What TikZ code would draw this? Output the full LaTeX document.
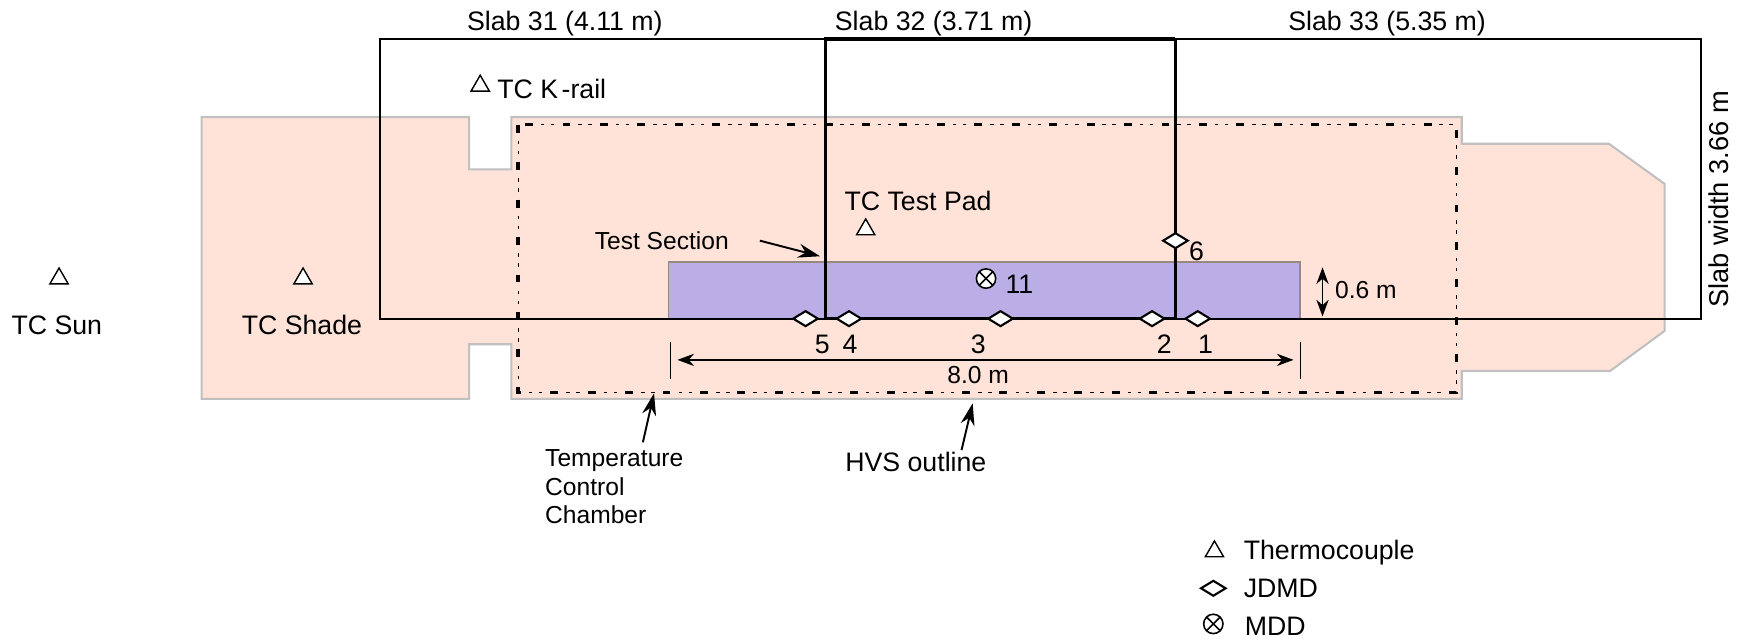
\documentclass[tikz,border=0pt]{standalone}
\usepackage{xcolor}
\usepackage{fontspec}
\setmainfont{Liberation Sans}
\usetikzlibrary{positioning,shapes.geometric,arrows.meta}
\definecolor{padfill}{RGB}{255,227,216}
\definecolor{padline}{RGB}{192,192,192}
\definecolor{testfill}{RGB}{187,174,230}
\definecolor{testline}{RGB}{150,138,128}

\begin{document}
\begin{tikzpicture}[x=0.02228cm, y=-0.02228cm,
    >={Stealth[length=9.5pt,width=7pt]},
    lbl/.style={font=\fontsize{15.2}{18}\selectfont, inner sep=0pt},
    lblsmall/.style={font=\fontsize{14}{16.1}\selectfont, inner sep=0pt},
    callout/.style={->, >={Stealth[length=12.5pt,width=8pt]}, line width=1.1pt},
    tcgauge/.style={draw, fill=white, regular polygon, regular polygon sides=3,
      minimum size=12pt, inner sep=0pt, line width=0.8pt},
    jdmd/.style={draw, fill=white, diamond, minimum width=14.5pt, minimum height=9pt,
      inner sep=0pt, line width=1.2pt},
    mdd/.style={draw, fill=white, circle, minimum size=11pt, inner sep=0pt, line width=0.9pt,
      path picture={
        \draw[line width=0.9pt] (path picture bounding box.north west) -- (path picture bounding box.south east);
        \draw[line width=0.9pt] (path picture bounding box.north east) -- (path picture bounding box.south west);
      }},
    chamberthick/.style={line width=1.9pt, dash pattern=on 4.5pt off 16.8pt},
    chamberthin/.style={line width=0.6pt, dash pattern=on 2pt off 3.7pt on 2pt off 13.6pt, dash phase=12.15pt}
  ]
  \useasboundingbox (0,0) rectangle (1568,575.3);

  % ===== Pad outline and test section =====
  \draw[fill=padfill, draw=padline, line width=1.2pt]
    (181,105) -- (421,105) -- (421,152) -- (459,152) -- (459,105) -- (1312,105)
    -- (1312,129) -- (1444,129) -- (1494,165) -- (1494,297) -- (1445,333)
    -- (1312,333) -- (1312,358) -- (459,358) -- (459,309) -- (421,309)
    -- (421,358) -- (181,358) -- cycle;
  \draw[fill=testfill, draw=testline, line width=1pt] (600,235) rectangle (1167,286);

  % Temperature control chamber
  \draw[chamberthick] (465,112) rectangle (1307,352);
  \draw[chamberthin] (465,112) rectangle (1307,352);

  % ===== Slabs =====
  \draw[line width=1.1pt] (741,35) -- (341,35) -- (341,286) -- (1527,286) -- (1527,35) -- (1055,35);
  \draw[line width=1.8pt] (1055,35) -- (741,35) -- (741,286) -- (1055,286);
  \draw[line width=1.2pt] (1055,35) -- (1055,286);

  \node[lbl] (slabA) at (507,21) {Slab 31 (4.11 m)};
  \node[lbl] (slabB) at (838,21) {Slab 32 (3.71 m)};
  \node[lbl] (slabC) at (1245,21) {Slab 33 (5.35 m)};
  \node[lbl, rotate=90, font=\fontsize{15.5}{18}\selectfont] (slabwidth) at (1543,179) {Slab width 3.66 m};

  % ===== Thermocouples =====
  \node[tcgauge] (tcrail) at (431,77) {};
  \node[lbl, anchor=west] (tcrailtxt) at (446,80) {TC K\kern2pt-rail};
  \node[tcgauge] (tcsun) at (53,250) {};
  \node[lbl] (tcsuntxt) at (51,292) {TC Sun};
  \node[tcgauge] (tcshade) at (272,250) {};
  \node[lbl] (tcshadetxt) at (271,292) {TC Shade};
  \node[tcgauge] (tcpad) at (777,206) {};
  \node[lbl] (tcpadtxt) at (824,180) {TC Test Pad};

  % ===== JDMD and MDD =====
  \node[jdmd] (jA) at (1075,286) {};
  \node[jdmd] (jB) at (1034,286) {};
  \node[jdmd] (jC) at (898,286) {};
  \node[jdmd] (jD) at (762,286) {};
  \node[jdmd] (jE) at (723,286) {};
  \node[jdmd] (jF) at (1055,216) {};
  \node[lbl] (jAtxt) at (1082,309) {1};
  \node[lbl] (jBtxt) at (1045,309) {2};
  \node[lbl] (jCtxt) at (878,309) {3};
  \node[lbl] (jDtxt) at (763,309) {4};
  \node[lbl] (jEtxt) at (738,309) {5};
  \node[lbl] (jFtxt) at (1074,226) {6};
  \node[mdd] (mddA) at (885,250) {};
  \node[lbl] (mddAtxt) at (915,255) {11};

  % ===== Dimensions =====
  \coordinate (tickLa) at (602,307);
  \coordinate (tickLb) at (602,340);
  \coordinate (tickRa) at (1167,307);
  \coordinate (tickRb) at (1167,340);
  \draw[line width=0.7pt] (tickLa) -- (tickLb);
  \draw[line width=0.7pt] (tickRa) -- (tickRb);
  \coordinate (lenL) at (608,323);
  \coordinate (lenR) at (1161,323);
  \draw[<->, line width=0.8pt] (lenL) -- (lenR);
  \node[lblsmall] (lentxt) at (878,337) {8.0 m};
  \coordinate (wdT) at (1187,240);
  \coordinate (wdB) at (1187,284);
  \draw[<->, line width=0.8pt] (wdT) -- (wdB);
  \node[lblsmall] (wdtxt) at (1226,260) {0.6 m};

  % ===== Callouts =====
  \node[lblsmall] (testsec) at (594,216) {Test Section};
  \coordinate (testtail) at (682,216);
  \coordinate (testtip) at (736,230);
  \draw[callout] (testtail) -- (testtip);
  \node[lblsmall, anchor=north west, align=left] (chambertxt) at (489,403.5)
    {Temperature\\Control\\Chamber};
  \coordinate (chambertail) at (577,397);
  \coordinate (chambertip) at (587,353);
  \draw[callout] (chambertail) -- (chambertip);
  \node[lbl] (hvstxt) at (822,415) {HVS outline};
  \coordinate (hvstail) at (863,404);
  \coordinate (hvstip) at (873,362);
  \draw[callout] (hvstail) -- (hvstip);

  % ===== Legend =====
  \node[tcgauge] (legtc) at (1090,495) {};
  \node[lbl, anchor=west] (legtctxt) at (1116,496) {Thermocouple};
  \node[jdmd] (legj) at (1089,528) {};
  \node[lbl, anchor=west] (legjtxt) at (1116,528) {JDMD};
  \node[mdd] (legm) at (1089,560) {};
  \node[lbl, anchor=west] (legmtxt) at (1117,562) {MDD};
\end{tikzpicture}
\end{document}
